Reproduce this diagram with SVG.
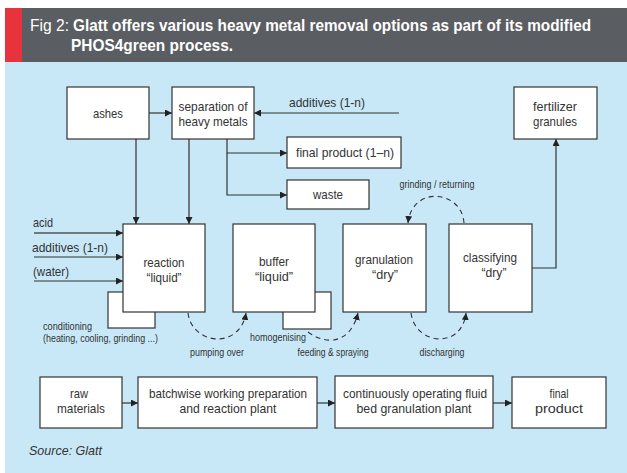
<svg xmlns="http://www.w3.org/2000/svg" width="627" height="473" viewBox="0 0 627 473">
<defs>
<marker id="ah" viewBox="0 0 10 10" refX="10" refY="5" markerWidth="7" markerHeight="7" markerUnits="userSpaceOnUse" orient="auto"><path d="M0,0 L10,5 L0,10 z" fill="#222"/></marker>
<style>
.box{fill:#fff;stroke:#333;stroke-width:1.2}
.ln{fill:none;stroke:#333;stroke-width:1.2}
.gl{fill:none;stroke:#555;stroke-width:1.5}
.ds{fill:none;stroke:#333;stroke-width:1.1;stroke-dasharray:5,4}
text{font-family:"Liberation Sans",Arial,sans-serif;fill:#333}
.t{font-size:13.5px;text-anchor:middle}
.l{font-size:13.5px}
.s{font-size:10.5px}
.sc{font-size:10.5px;text-anchor:middle}
.h{font-size:17px;fill:#fff}
</style>
</defs>
<rect x="0" y="0" width="627" height="473" fill="#fff"/>
<rect x="5" y="62" width="622" height="411" fill="#c8e8f7"/>
<rect x="5" y="8" width="622" height="54" fill="#5a5d61"/>
<rect x="5" y="8" width="17" height="54" fill="#e8323c"/>
<text class="h" x="30" y="31" textLength="39" lengthAdjust="spacingAndGlyphs">Fig 2:</text>
<text class="h" x="73" y="31" font-weight="bold" textLength="518" lengthAdjust="spacingAndGlyphs">Glatt offers various heavy metal removal options as part of its modified</text>
<text class="h" x="71" y="51" font-weight="bold" textLength="162" lengthAdjust="spacingAndGlyphs">PHOS4green process.</text>

<g id="connectors">
<path class="ln" d="M149,113 H172" marker-end="url(#ah)"/>
<path class="ln" d="M399,113 H254" marker-end="url(#ah)"/>
<path class="ln" d="M227,139 V153 H287" marker-end="url(#ah)"/>
<path class="ln" d="M227,153 V195 H287" marker-end="url(#ah)"/>
<path class="gl" d="M136,139 V224" marker-end="url(#ah)"/>
<path class="gl" d="M189,139 V224" marker-end="url(#ah)"/>
<path class="gl" d="M34,233 H123" marker-end="url(#ah)"/>
<path class="ln" d="M34,257 H123" marker-end="url(#ah)"/>
<path class="ln" d="M34,281 H123" marker-end="url(#ah)"/>
<path class="ln" d="M532,268 H556 V139" marker-end="url(#ah)"/>
<path class="ds" d="M188,313 C192,345 240,350 246,313" marker-end="url(#ah)"/>
<path class="ds" d="M308,332 C325,345 350,345 358,313" marker-end="url(#ah)"/>
<path class="ds" d="M411,313 C415,345 462,350 466,313" marker-end="url(#ah)"/>
<path class="ds" d="M464,223 C462,190 412,185 408,223" marker-end="url(#ah)"/>
<path class="ln" d="M122,403 H138" marker-end="url(#ah)"/>
<path class="ln" d="M317,403 H335" marker-end="url(#ah)"/>
<path class="ln" d="M493,403 H512" marker-end="url(#ah)"/>
</g>

<g id="ashes"><rect class="box" x="67" y="87" width="82" height="52"/><text class="t" x="108" y="118" textLength="30" lengthAdjust="spacingAndGlyphs">ashes</text></g>
<g id="separation"><rect class="box" x="172" y="87" width="82" height="52"/><text class="t" x="213" y="111" textLength="69" lengthAdjust="spacingAndGlyphs">separation of</text><text class="t" x="213" y="126" textLength="69" lengthAdjust="spacingAndGlyphs">heavy metals</text></g>
<g id="final-product-1n"><rect class="box" x="287" y="137" width="114" height="31"/><text class="t" x="345" y="157" textLength="98" lengthAdjust="spacingAndGlyphs">final product (1–n)</text></g>
<g id="waste"><rect class="box" x="287" y="180" width="82" height="29"/><text class="t" x="328" y="199" textLength="30" lengthAdjust="spacingAndGlyphs">waste</text></g>
<g id="fertilizer"><rect class="box" x="514" y="87" width="83" height="52"/><text class="t" x="555" y="111" textLength="44" lengthAdjust="spacingAndGlyphs">fertilizer</text><text class="t" x="555" y="126" textLength="44" lengthAdjust="spacingAndGlyphs">granules</text></g>

<g id="conditioning"><rect class="box" x="108" y="292" width="47" height="36"/></g>
<g id="reaction"><rect class="box" x="123" y="224" width="82" height="88"/><text class="t" x="164" y="267" textLength="41" lengthAdjust="spacingAndGlyphs">reaction</text><text class="t" x="164" y="282" textLength="35" lengthAdjust="spacingAndGlyphs">“liquid”</text></g>
<g id="homogenising"><rect class="box" x="283" y="292" width="48" height="37"/></g>
<g id="buffer"><rect class="box" x="233" y="224" width="82" height="88"/><text class="t" x="274" y="266" textLength="30" lengthAdjust="spacingAndGlyphs">buffer</text><text class="t" x="274" y="281" textLength="38" lengthAdjust="spacingAndGlyphs">“liquid”</text></g>
<g id="granulation"><rect class="box" x="343" y="224" width="83" height="88"/><text class="t" x="384" y="264" textLength="58" lengthAdjust="spacingAndGlyphs">granulation</text><text class="t" x="385" y="279" textLength="26" lengthAdjust="spacingAndGlyphs">“dry”</text></g>
<g id="classifying"><rect class="box" x="449" y="224" width="83" height="88"/><text class="t" x="490" y="262" textLength="54" lengthAdjust="spacingAndGlyphs">classifying</text><text class="t" x="494" y="277" textLength="25" lengthAdjust="spacingAndGlyphs">“dry”</text></g>

<g id="labels">
<text class="l" x="289" y="107" textLength="76" lengthAdjust="spacingAndGlyphs">additives (1-n)</text>
<text class="l" x="33" y="227" textLength="20" lengthAdjust="spacingAndGlyphs">acid</text>
<text class="l" x="32" y="252" textLength="76" lengthAdjust="spacingAndGlyphs">additives (1-n)</text>
<text class="l" x="33" y="276" textLength="36" lengthAdjust="spacingAndGlyphs">(water)</text>
<text class="s" x="43" y="330" textLength="49" lengthAdjust="spacingAndGlyphs">conditioning</text>
<text class="s" x="43" y="342" textLength="115" lengthAdjust="spacingAndGlyphs">(heating, cooling, grinding ...)</text>
<text class="sc" x="217" y="356" textLength="54" lengthAdjust="spacingAndGlyphs">pumping over</text>
<text class="sc" x="278" y="341" textLength="56" lengthAdjust="spacingAndGlyphs">homogenising</text>
<text class="sc" x="333" y="356" textLength="71" lengthAdjust="spacingAndGlyphs">feeding &amp; spraying</text>
<text class="sc" x="442" y="356" textLength="45" lengthAdjust="spacingAndGlyphs">discharging</text>
<text class="sc" x="437" y="188" textLength="75" lengthAdjust="spacingAndGlyphs">grinding / returning</text>
</g>

<g id="raw-materials"><rect class="box" x="40" y="377" width="82" height="51"/><text class="t" x="79" y="398" textLength="18" lengthAdjust="spacingAndGlyphs">raw</text><text class="t" x="81" y="413" textLength="48" lengthAdjust="spacingAndGlyphs">materials</text></g>
<g id="batchwise"><rect class="box" x="138" y="377" width="179" height="51"/><text class="t" x="228" y="398" textLength="158" lengthAdjust="spacingAndGlyphs">batchwise working preparation</text><text class="t" x="228" y="413" textLength="97" lengthAdjust="spacingAndGlyphs">and reaction plant</text></g>
<g id="continuous"><rect class="box" x="335" y="376" width="158" height="52"/><text class="t" x="415" y="398" textLength="144" lengthAdjust="spacingAndGlyphs">continuously operating fluid</text><text class="t" x="414" y="413" textLength="115" lengthAdjust="spacingAndGlyphs">bed granulation plant</text></g>
<g id="final-product"><rect class="box" x="512" y="377" width="94" height="51"/><text class="t" x="559" y="398" textLength="19" lengthAdjust="spacingAndGlyphs">final</text><text class="t" x="559" y="413" textLength="48" lengthAdjust="spacingAndGlyphs">product</text></g>
<text x="29" y="455" font-size="13.5" font-style="italic" textLength="73" lengthAdjust="spacingAndGlyphs">Source: Glatt</text>
</svg>
